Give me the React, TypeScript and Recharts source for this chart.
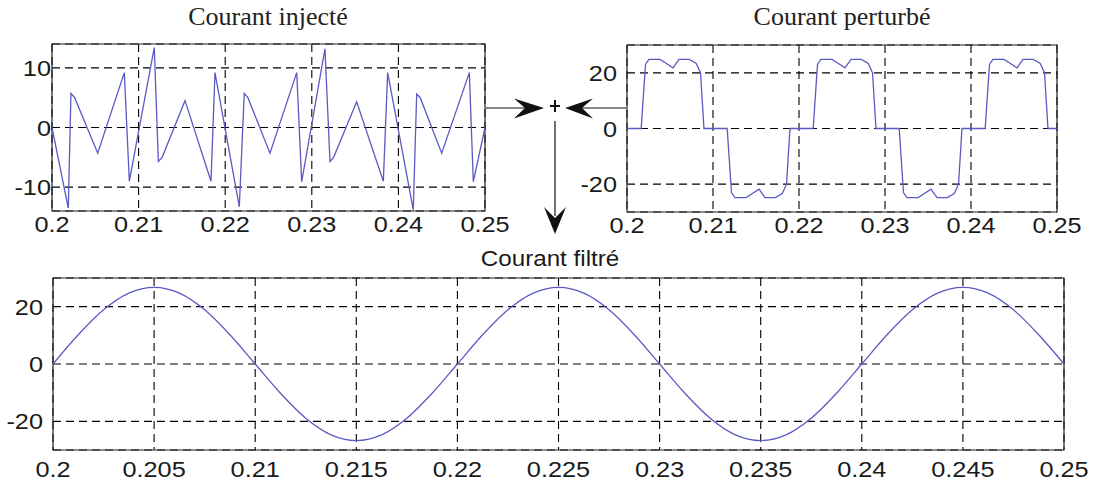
import React from 'react';
import { LineChart, Line, XAxis, YAxis, CartesianGrid, ReferenceArea } from 'recharts';

// Courant injecté
const injTime = [
  0.2, 0.20188, 0.20219, 0.20262, 0.20528, 0.20835, 0.20893, 0.21181, 0.21228, 0.21272,
  0.21536, 0.21836, 0.21882, 0.22163, 0.2222, 0.22262, 0.22517, 0.22826, 0.22883, 0.23152,
  0.2321, 0.23252, 0.23518, 0.23826, 0.23876, 0.24172, 0.24211, 0.24252, 0.245, 0.24819,
  0.24865, 0.25,
];
const injValue = [
  0, -13.5, 5.7, 5.0, -4.3, 9.2, -9.0, 13.4, -5.7, -5.0,
  4.5, -9.0, 9.2, -13.3, 5.7, 5.0, -4.3, 9.2, -9.1, 13.2,
  -5.7, -5.0, 4.3, -9.0, 9.2, -13.8, 5.6, 5.0, -4.3, 9.2,
  -9.1, 0,
];

// Courant perturbé
const pertTime = [
  0.2, 0.20165, 0.20215, 0.20255, 0.20385, 0.20445, 0.20535, 0.20605, 0.20725, 0.20805, 0.20855, 0.20895,
  0.21165, 0.21215, 0.21255, 0.21385, 0.21445, 0.21535, 0.21605, 0.21725, 0.21805, 0.21855, 0.21895,
  0.22165, 0.22215, 0.22255, 0.22385, 0.22445, 0.22535, 0.22605, 0.22725, 0.22805, 0.22855, 0.22895,
  0.23165, 0.23215, 0.23255, 0.23385, 0.23445, 0.23535, 0.23605, 0.23725, 0.23805, 0.23855, 0.23895,
  0.24165, 0.24215, 0.24255, 0.24385, 0.24445, 0.24535, 0.24605, 0.24725, 0.24805, 0.24855, 0.24895,
  0.25,
];
const pertValue = [
  0, 0, 23, 24.8, 24.8, 23.6, 21.8, 24.8, 24.8, 23.4, 20, 0,
  0, -23, -24.8, -24.8, -23.6, -21.8, -24.8, -24.8, -23.4, -20, 0,
  0, 23, 24.8, 24.8, 23.6, 21.8, 24.8, 24.8, 23.4, 20, 0,
  0, -23, -24.8, -24.8, -23.6, -21.8, -24.8, -24.8, -23.4, -20, 0,
  0, 23, 24.8, 24.8, 23.6, 21.8, 24.8, 24.8, 23.4, 20, 0,
  0,
];

// Courant filtré
const filtTime = [
  0.2, 0.20125, 0.2025, 0.20375, 0.205, 0.20625, 0.2075, 0.20875, 0.21, 0.21125,
  0.2125, 0.21375, 0.215, 0.21625, 0.2175, 0.21875, 0.22, 0.22125, 0.2225, 0.22375,
  0.225, 0.22625, 0.2275, 0.22875, 0.23, 0.23125, 0.2325, 0.23375, 0.235, 0.23625,
  0.2375, 0.23875, 0.24, 0.24125, 0.2425, 0.24375, 0.245, 0.24625, 0.2475, 0.24875,
  0.25,
];
const filtValue = [
  0, 10.2, 18.9, 24.7, 26.7, 24.7, 18.9, 10.2, 0, -10.2,
  -18.9, -24.7, -26.7, -24.7, -18.9, -10.2, 0, 10.2, 18.9, 24.7,
  26.7, 24.7, 18.9, 10.2, 0, -10.2, -18.9, -24.7, -26.7, -24.7,
  -18.9, -10.2, 0, 10.2, 18.9, 24.7, 26.7, 24.7, 18.9, 10.2,
  0,
];

const xTicksTop = [0.2, 0.21, 0.22, 0.23, 0.24, 0.25];
const xTicksBottom = [0.2, 0.205, 0.21, 0.215, 0.22, 0.225, 0.23, 0.235, 0.24, 0.245, 0.25];
const yTicksInj = [-10, 0, 10];
const yTicksCur = [-20, 0, 20];

const toRows = (t: number[], v: number[]) => t.map((x, i) => ({ t: x, v: v[i] }));
const injData = toRows(injTime, injValue);
const pertData = toRows(pertTime, pertValue);
const filtData = toRows(filtTime, filtValue);

const LINE = '#5a5ac4';
const SANS = '"Liberation Sans", Arial, sans-serif';
const SERIF = '"Liberation Serif", "Times New Roman", serif';

function XTick(props: any) {
  const { x, y, payload, dy } = props;
  return (
    <g transform={`translate(${x},${y + dy}) scale(1.15,1)`}>
      <text textAnchor="middle" fontFamily={SANS} fontSize={22} fill="#1a1a1a">
        {payload.value}
      </text>
    </g>
  );
}

function YTick(props: any) {
  const { x, y, payload, gap } = props;
  return (
    <g transform={`translate(${x - gap},${y + 8}) scale(1.15,1)`}>
      <text textAnchor="end" fontFamily={SANS} fontSize={22} fill="#1a1a1a">
        {payload.value}
      </text>
    </g>
  );
}

interface PanelProps {
  data: { t: number; v: number }[];
  width: number;
  height: number;
  margin: { top: number; right: number; bottom: number; left: number };
  yWidth: number;
  yDomain: [number, number];
  yTicks: number[];
  xTicks: number[];
  xDy: number;
  yGap: number;
  lineType: 'linear' | 'monotone';
}

function Panel(p: PanelProps) {
  return (
    <LineChart width={p.width} height={p.height} data={p.data} margin={p.margin}>
      <CartesianGrid stroke="#000" strokeWidth={1.1} strokeDasharray="8 5" />
      <XAxis
        type="number"
        dataKey="t"
        domain={[0.2, 0.25]}
        ticks={p.xTicks}
        interval={0}
        allowDataOverflow
        axisLine={false}
        tickLine={false}
        tickSize={0}
        tickMargin={0}
        height={30}
        tick={(t: any) => <XTick {...t} dy={p.xDy} />}
      />
      <YAxis
        type="number"
        domain={p.yDomain}
        ticks={p.yTicks}
        interval={0}
        allowDataOverflow
        axisLine={false}
        tickLine={false}
        tickSize={0}
        tickMargin={0}
        width={p.yWidth}
        tick={(t: any) => <YTick {...t} gap={p.yGap} />}
      />
      <ReferenceArea
        x1={0.2}
        x2={0.25}
        y1={p.yDomain[0]}
        y2={p.yDomain[1]}
        fill="none"
        fillOpacity={0}
        stroke="#222"
        strokeWidth={1.2}
        strokeOpacity={1}
      />
      <Line
        type={p.lineType}
        dataKey="v"
        stroke={LINE}
        strokeWidth={1.3}
        dot={false}
        isAnimationActive={false}
      />
    </LineChart>
  );
}

export default function App() {
  return (
    <div style={{ position: 'absolute', left: 0, top: 0, width: 1094, height: 483, background: '#fff', overflow: 'hidden' }}>
      <div style={{ position: 'absolute', left: 0, top: 0 }}>
        <Panel
          data={injData}
          width={525}
          height={250}
          margin={{ top: 44, right: 40, bottom: 9, left: 0 }}
          yWidth={52}
          yDomain={[-14, 14]}
          yTicks={yTicksInj}
          xTicks={xTicksTop}
          xDy={21}
          yGap={1}
          lineType="linear"
        />
      </div>
      <div style={{ position: 'absolute', left: 560, top: 0 }}>
        <Panel
          data={pertData}
          width={534}
          height={250}
          margin={{ top: 45, right: 37, bottom: 8, left: 0 }}
          yWidth={67}
          yDomain={[-30, 30]}
          yTicks={yTicksCur}
          xTicks={xTicksTop}
          xDy={21}
          yGap={10}
          lineType="linear"
        />
      </div>
      <div style={{ position: 'absolute', left: 0, top: 240 }}>
        <Panel
          data={filtData}
          width={1094}
          height={243}
          margin={{ top: 38, right: 30, bottom: 3, left: 0 }}
          yWidth={53}
          yDomain={[-30, 30]}
          yTicks={yTicksCur}
          xTicks={xTicksBottom}
          xDy={27}
          yGap={10}
          lineType="monotone"
        />
      </div>

      {/* titles and the summing-junction arrows */}
      <svg width={1094} height={483} style={{ position: 'absolute', left: 0, top: 0, pointerEvents: 'none' }}>
        <text x={268} y={25} textAnchor="middle" fontFamily={SERIF} fontSize={26} fill="#222">Courant injecté</text>
        <text x={842} y={25} textAnchor="middle" fontFamily={SERIF} fontSize={26} fill="#222">Courant perturbé</text>
        <g transform="translate(550,266) scale(1.1,1)">
          <text textAnchor="middle" fontFamily={SANS} fontSize={22} fill="#1a1a1a">Courant filtré</text>
        </g>

        <line x1={486} y1={108} x2={528} y2={108} stroke="#111" strokeWidth={1.2} />
        <polygon points="544,108 514,98.5 525,108 514,118.5" fill="#111" />
        <line x1={582} y1={108} x2={626} y2={108} stroke="#111" strokeWidth={1.2} />
        <polygon points="565,108 593,98.5 582,108 593,118.5" fill="#111" />
        <line x1={550} y1={106} x2={560} y2={106} stroke="#111" strokeWidth={2} />
        <line x1={555} y1={100} x2={555} y2={112} stroke="#111" strokeWidth={2} />
        <line x1={555} y1={121} x2={555} y2={216} stroke="#111" strokeWidth={1.2} />
        <polygon points="555,234 544,207 555,218 566,207" fill="#111" />
      </svg>
    </div>
  );
}
